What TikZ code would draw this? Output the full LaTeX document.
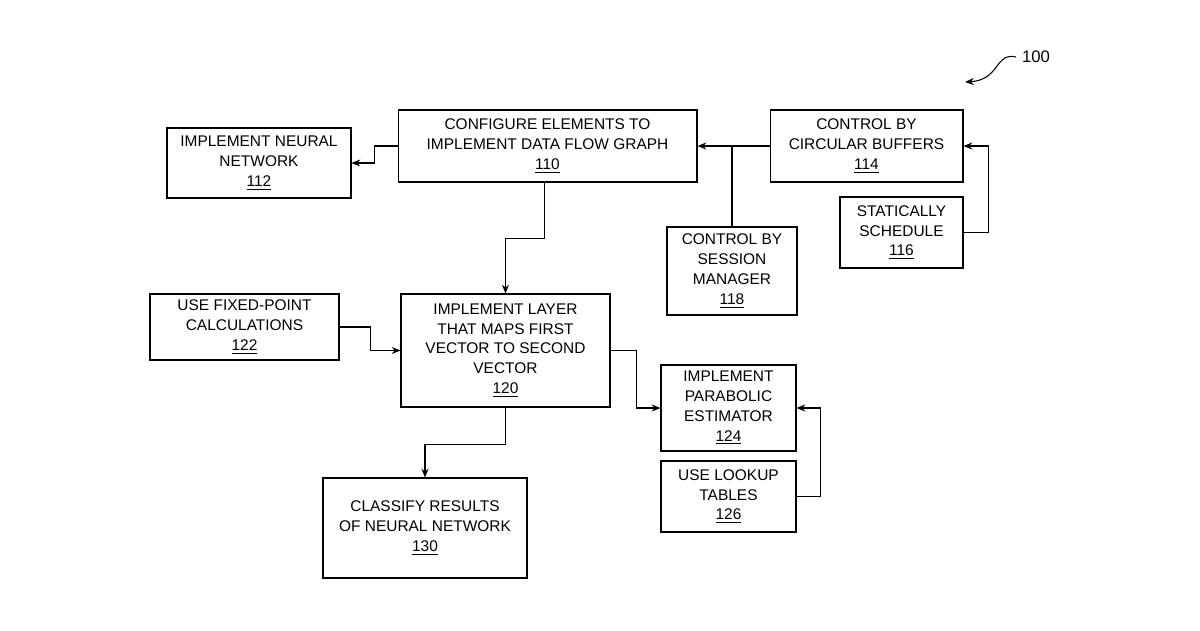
\documentclass[tikz,border=0pt]{standalone}
\usepackage{fontspec}
\setmainfont{Liberation Sans}
\usetikzlibrary{positioning, arrows.meta}
\tikzset{
    block/.style={
        draw, line width=0.6pt, inner sep=0pt,
        align = center,
        font = \fontsize{8.8}{11.3}\selectfont
    },
    line/.style = {-{Stealth[length=5pt,width=4pt]}, line width=0.6pt}
}
\newcommand{\refnum}[1]{\underline{#1}}
\begin{document}
\begin{tikzpicture}[x=0.02cm,y=-0.02cm]

    % Frame
    \useasboundingbox (0,0) rectangle (1200,630);

    % Blocks
    \node[block, minimum width=5.98cm, minimum height=1.44cm] (b110) at (547.5,146) {CONFIGURE ELEMENTS TO\\IMPLEMENT DATA FLOW GRAPH\\\refnum{110}};
    \node[block, minimum width=3.68cm, minimum height=1.40cm] (b112) at (259,163) {IMPLEMENT NEURAL\\NETWORK\\\refnum{112}};
    \node[block, minimum width=3.86cm, minimum height=1.44cm] (b114) at (866.5,146) {CONTROL BY\\CIRCULAR BUFFERS\\\refnum{114}};
    \node[block, minimum width=2.46cm, minimum height=1.42cm] (b116) at (901.5,232.5) {STATICALLY\\SCHEDULE\\\refnum{116}};
    \node[block, minimum width=2.60cm, minimum height=1.76cm] (b118) at (732,271) {CONTROL BY\\SESSION\\MANAGER\\\refnum{118}};
    \node[block, minimum width=4.18cm, minimum height=2.26cm] (b120) at (505.5,350.5) {IMPLEMENT LAYER\\THAT MAPS FIRST\\VECTOR TO SECOND\\VECTOR\\\refnum{120}};
    \node[block, minimum width=3.78cm, minimum height=1.32cm] (b122) at (244.5,327) {USE FIXED-POINT\\CALCULATIONS\\\refnum{122}};
    \node[block, minimum width=2.70cm, minimum height=1.72cm] (b124) at (728.5,408) {IMPLEMENT\\PARABOLIC\\ESTIMATOR\\\refnum{124}};
    \node[block, minimum width=2.70cm, minimum height=1.42cm] (b126) at (728.5,496.5) {USE LOOKUP\\TABLES\\\refnum{126}};
    \node[block, minimum width=4.08cm, minimum height=2.00cm] (b130) at (425,528) {CLASSIFY RESULTS\\OF NEURAL NETWORK\\\refnum{130}};

    % Connectors
    \draw[line] (b110.west) -- ++(-23,0) |- (b112.east);
    \draw[line] (b114.west) -- (b110.east);
    \draw[line width=0.6pt] (b118.north) -- (b118.north |- b110.east);
    \draw[line] (b116.east) -- ++(25,0) |- (b114.east);
    \draw[line] ([xshift=-1.5]b110.south) -- ++(0,56) -| (b120.north);
    \draw[line] (b122.east) -- ++(31,0) |- (b120.west);
    \draw[line] (b120.east) -- ++(26,0) |- (b124.west);
    \draw[line] (b126.east) -- ++(24,0) |- (b124.east);
    \draw[line] (b120.south) -- ++(0,37) -| (b130.north);

    % Reference numeral
    \node[font=\fontsize{9.5}{11}\selectfont] (n100) at (1036,57) {100};
    \draw[line] (n100.west) .. controls (995,52) and (1000,80) .. (965,82);

\end{tikzpicture}
\end{document}
